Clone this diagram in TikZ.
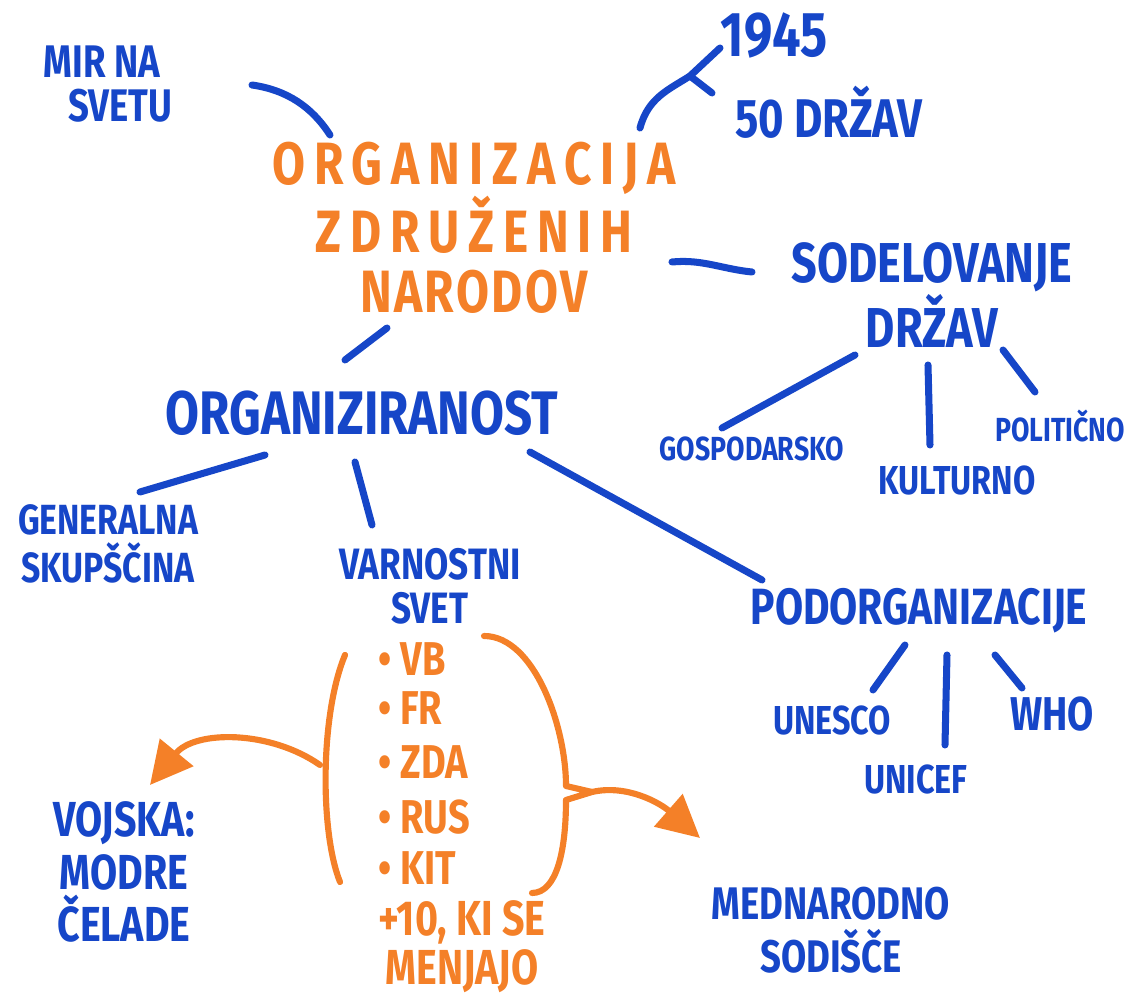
\documentclass[tikz,border=0pt]{standalone}
\usepackage{fontspec}
\setmainfont{Fira Sans}[FakeStretch=0.8]
\usetikzlibrary{arrows.meta,calc}
\definecolor{penblue}{RGB}{22,70,200}
\definecolor{penorange}{RGB}{244,128,40}
\newcommand{\fs}[2]{\fontsize{#1}{#2}\bfseries}

\begin{document}
\begin{tikzpicture}[x=0.02cm, y=-0.02cm,
		blue label/.style={text=penblue, align=center, inner sep=1pt},
		orange label/.style={text=penorange, align=center, inner sep=1pt},
		link/.style={draw=penblue, line width=4pt, line cap=round, line join=round},
		brace/.style={draw=penorange, line width=3.5pt, line cap=round, line join=round},
		big arrow/.style={brace, -{Triangle[length=24pt, width=24pt]}}]
		\useasboundingbox (0,0) rectangle (1134,1006);

		% Centre and first ring
		\node[orange label, font=\fs{34}{34}\addfontfeature{LetterSpace=15}] (org) at (474,228)
			{ORGANIZACIJA\\ZDRUŽENIH\\{\addfontfeature{LetterSpace=4}NARODOV}};
		\node[blue label, font=\fs{26}{25}, align=left] (mir) at (108,84) {MIR NA\\\hspace*{14pt}SVETU};
		\node[blue label, font=\fs{36}{36}] (yr) at (774,35) {1945};
		\node[blue label, font=\fs{31}{31}] (states) at (829,112) {50 DRŽAV};
		\node[blue label, font=\fs{32}{31}] (sod) at (932,295) {SODELOVANJE\\DRŽAV};
		\node[blue label, font=\fs{35}{35}] (orgz) at (362,413) {ORGANIZIRANOST};

		% Kinds of cooperation
		\node[blue label, font=\fs{19}{19}] (gosp) at (752,449) {GOSPODARSKO};
		\node[blue label, font=\fs{23}{23}] (kult) at (957,481) {KULTURNO};
		\node[blue label, font=\fs{19}{19}] (polit) at (1060,426) {POLITIČNO};

		% Bodies
		\node[blue label, font=\fs{24}{27}] (gen) at (108,544) {GENERALNA\\SKUPŠČINA};
		\node[blue label, font=\fs{25}{25}] (varn) at (430,586) {VARNOSTNI\\SVET};
		\node[blue label, font=\fs{29}{29}] (podorg) at (919,611) {PODORGANIZACIJE};
		\node[blue label, font=\fs{23}{23}] (unesco) at (832,721) {UNESCO};
		\node[blue label, font=\fs{23}{23}] (unicef) at (916,780) {UNICEF};
		\node[blue label, font=\fs{27}{27}] (who) at (1052,714) {WHO};
		\node[blue label, font=\fs{28}{30}] (vojska) at (124,872) {VOJSKA:\\MODRE\\ČELADE};
		\node[blue label, font=\fs{26}{30}] (sodisce) at (831,930) {MEDNARODNO\\SODIŠČE};

		% Permanent members
		\foreach \c/\y [count=\i] in {VB/659, FR/708, ZDA/762, RUS/817, KIT/868}
			\node[orange label, font=\fs{27}{27}, inner sep=0pt, anchor=west] (c\i) at (378,\y) {• \c};
		\node[orange label, font=\fs{28}{28}] (plus) at (462,947) {+10, KI SE\\MENJAJO};

		% Branches
		\draw[link] ($(mir)+(144,1)$) .. controls +(35,5) and +(-18,-28) .. ($(org)+(-144,-93)$);
		\coordinate (fork) at ($(yr)+(-84,41)$);
		\draw[link] ($(org)+(166,-100)$) .. controls +(8,-30) and +(-22,14) .. (fork) -- ($(yr)+(-54,13)$);
		\draw[link] (fork) -- ($(states)+(-117,-19)$);
		\draw[link] ($(org)+(198,34)$) .. controls +(30,-3) and +(-30,-3) .. ($(sod)+(-180,-23)$);
		\draw[link] ($(sod)+(-77,60)$) -- ($(gosp)+(-30,-21)$);
		\draw[link] ($(sod)+(-4,70)$) -- ($(kult)+(-27,-36)$);
		\draw[link] ($(sod)+(71,55)$) -- ($(polit)+(-25,-34)$);
		\draw[link] ($(org)+(-87,100)$) -- ($(orgz)+(-17,-53)$);
		\draw[link] ($(orgz)+(-97,42)$) -- ($(gen)+(32,-52)$);
		\draw[link] ($(orgz)+(-7,49)$) -- ($(varn)+(-58,-61)$);
		\draw[link] ($(orgz)+(168,39)$) -- ($(podorg)+(-157,-31)$);
		\draw[link] ($(podorg)+(-14,34)$) -- ($(unesco)+(41,-31)$);
		\draw[link] ($(podorg)+(28,44)$) -- ($(unicef)+(29,-35)$);
		\draw[link] ($(podorg)+(76,44)$) -- ($(who)+(-30,-26)$);

		% Brackets and arrows
		\draw[brace] ($(c1.west)+(-33,-4)$) .. controls +(-25,60) and +(-20,-50) .. ($(c5.west)+(-38,14)$);
		\coordinate (tip) at ($(c3.west)+(214,30)$);
		\draw[brace] ($(c1.west)+(106,-23)$) .. controls +(50,0) and +(0,-60) .. ($(tip)+(-26,-6)$)
			-- (tip) -- ($(tip)+(-26,8)$) .. controls +(0,50) and +(25,0) .. ($(c5.west)+(154,25)$);
		\coordinate (lb) at ($(c3.west)+(-58,3)$);
		\draw[big arrow] (lb) .. controls +(-50,-35) and +(45,-55) .. ($(vojska)+(26,-87)$);
		\draw[big arrow] (tip) .. controls +(35,-8) and +(-40,-35) .. ($(sodisce)+(-131,-92)$);
	\end{tikzpicture}
\end{document}
